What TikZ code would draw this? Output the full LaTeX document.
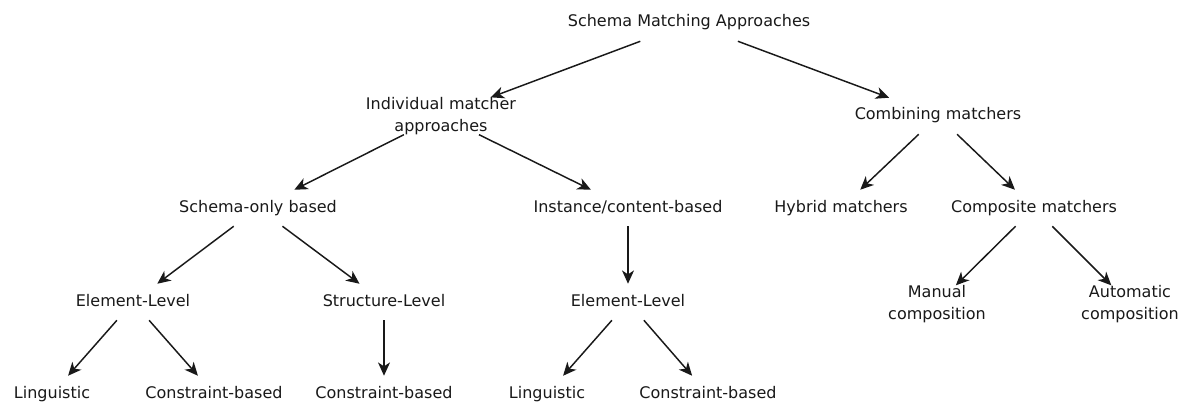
\documentclass[tikz,border=0pt]{standalone}
\usepackage{fontspec}
\setmainfont{DejaVu Sans}
\usepackage{tikz}
\usetikzlibrary{arrows.meta}

\begin{document}
\begin{tikzpicture}[x=0.75pt, y=-0.75pt,
    >={Stealth[length=10pt,width=9pt,inset=3pt]},
    lbl/.style={inner xsep=2pt, inner ysep=7.5pt, text height=9pt, text depth=3pt, text=black!90, font=\fontsize{12}{16}\selectfont},
    lbltwo/.style={inner sep=0pt, align=center, text=black!90, font=\fontsize{12}{16}\selectfont},
    arr/.style={->, line width=1.1pt, black!90}]
            \useasboundingbox (0,0) rectangle (1186,403);
            \fill[white] (0,0) rectangle (1186,403);

            \node[lbl] (root) at (689,23) {Schema Matching Approaches};
            \node[lbltwo] (individual) at (441,116) {Individual matcher\\approaches};
            \node[lbl] (combining) at (938,116) {Combining matchers};

            \node[lbl] (schemaonly) at (258,208) {Schema-only based};
            \node[lbl] (instance) at (628,208) {Instance/content-based};
            \node[lbl] (hybrid) at (841,208) {Hybrid matchers};
            \node[lbl] (composite) at (1034,208) {Composite matchers};

            \node[lbl] (element1) at (133,302) {Element-Level};
            \node[lbl] (structure) at (384,302) {Structure-Level};
            \node[lbl] (element2) at (628,302) {Element-Level};
            \node[lbltwo] (manual) at (937,304) {Manual\\composition};
            \node[lbltwo] (automatic) at (1130,304) {Automatic\\composition};

            \node[lbl] (linguistic1) at (52,394) {Linguistic};
            \node[lbl] (constraint1) at (214,394) {Constraint-based};
            \node[lbl] (constraint2) at (384,394) {Constraint-based};
            \node[lbl] (linguistic2) at (547,394) {Linguistic};
            \node[lbl] (constraint3) at (708,394) {Constraint-based};

            \draw[arr] (root) -- (individual);
            \draw[arr] (root) -- (combining);
            \draw[arr] (individual) -- (schemaonly);
            \draw[arr] (individual) -- (instance);
            \draw[arr] (combining) -- (hybrid);
            \draw[arr] (combining) -- (composite);
            \draw[arr] (schemaonly) -- (element1);
            \draw[arr] (schemaonly) -- (structure);
            \draw[arr] (instance) -- (element2);
            \draw[arr] (composite) -- (manual);
            \draw[arr] (composite) -- (automatic);
            \draw[arr] (element1) -- (linguistic1);
            \draw[arr] (element1) -- (constraint1);
            \draw[arr] (structure) -- (constraint2);
            \draw[arr] (element2) -- (linguistic2);
            \draw[arr] (element2) -- (constraint3);
        \end{tikzpicture}
\end{document}
